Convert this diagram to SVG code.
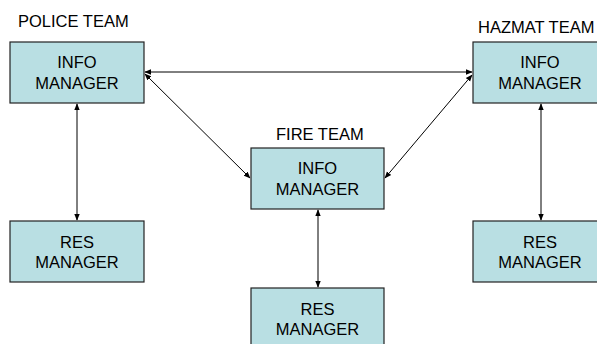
<svg xmlns="http://www.w3.org/2000/svg" width="597" height="344" viewBox="0 0 597 344">
<defs>
<style>
.box{fill:#b9dfe3;stroke:#222;stroke-width:1.2}
.t{font-family:"Liberation Sans",Arial,sans-serif;font-size:16.5px;fill:#000;text-anchor:middle}
.lbl{font-family:"Liberation Sans",Arial,sans-serif;font-size:16.5px;fill:#000}
.c{stroke:#000;stroke-width:1;fill:none;marker-start:url(#a);marker-end:url(#a)}
</style>
<marker id="a" viewBox="0 0 10 10" refX="9" refY="5" markerWidth="7" markerHeight="7" orient="auto-start-reverse" markerUnits="userSpaceOnUse">
<path d="M0,1 L10,5 L0,9 Z" fill="#000"/>
</marker>
</defs>
<rect width="597" height="344" fill="#fff"/>
<g id="connectors">
<line class="c" x1="145" y1="72" x2="472" y2="72"/>
<line class="c" x1="145" y1="74" x2="250" y2="178"/>
<line class="c" x1="472" y1="75" x2="385" y2="178"/>
<line class="c" x1="77" y1="104" x2="77" y2="220"/>
<line class="c" x1="318" y1="210" x2="318" y2="287"/>
<line class="c" x1="541" y1="104" x2="541" y2="220"/>
</g>
<g id="police-label"><text class="lbl" x="18" y="27">POLICE TEAM</text></g>
<g id="police-info">
<rect class="box" x="10" y="42" width="134" height="61"/>
<text class="t" x="77" y="68">INFO</text>
<text class="t" x="77" y="89">MANAGER</text>
</g>
<g id="police-res">
<rect class="box" x="10" y="221" width="134" height="61"/>
<text class="t" x="77" y="248">RES</text>
<text class="t" x="77" y="268">MANAGER</text>
</g>
<g id="hazmat-label"><text class="lbl" x="478" y="33">HAZMAT TEAM</text></g>
<g id="hazmat-info">
<rect class="box" x="473" y="42" width="134" height="61"/>
<text class="t" x="540" y="68">INFO</text>
<text class="t" x="540" y="89">MANAGER</text>
</g>
<g id="hazmat-res">
<rect class="box" x="473" y="221" width="134" height="61"/>
<text class="t" x="540" y="248">RES</text>
<text class="t" x="540" y="268">MANAGER</text>
</g>
<g id="fire-label"><text class="lbl" x="276" y="140">FIRE TEAM</text></g>
<g id="fire-info">
<rect class="box" x="251" y="148" width="133" height="61"/>
<text class="t" x="317.5" y="174">INFO</text>
<text class="t" x="317.5" y="195">MANAGER</text>
</g>
<g id="fire-res">
<rect class="box" x="251" y="288" width="133" height="61"/>
<text class="t" x="317.5" y="315">RES</text>
<text class="t" x="317.5" y="335">MANAGER</text>
</g>
</svg>
